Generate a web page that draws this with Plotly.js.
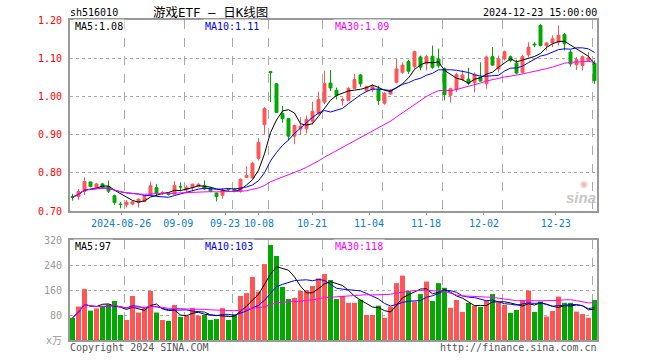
<!DOCTYPE html>
<html><head><meta charset="utf-8">
<script src="https://cdn.plot.ly/plotly-3.0.1.min.js"></script>
<style>html,body{margin:0;padding:0;background:#fff}</style>
</head><body><div id="chart" style="width:660px;height:360px"></div>
<script>
const dates = ['08-13','08-14','08-15','08-16','08-19','08-20','08-21','08-22','08-23','08-26','08-27','08-28','08-29','08-30',
'09-02','09-03','09-04','09-05','09-06','09-09','09-10','09-11','09-12','09-13','09-18','09-19','09-20','09-23','09-24','09-25','09-26','09-27','09-30',
'10-08','10-09','10-10','10-11','10-14','10-15','10-16','10-17','10-18','10-21','10-22','10-23','10-24','10-25','10-28','10-29','10-30','10-31',
'11-01','11-04','11-05','11-06','11-07','11-08','11-11','11-12','11-13','11-14','11-15','11-18','11-19','11-20','11-21','11-22','11-25','11-26','11-27','11-28','11-29',
'12-02','12-03','12-04','12-05','12-06','12-09','12-10','12-11','12-12','12-13','12-16','12-17','12-18','12-19','12-20','12-23'];
const openP = [.738,.738,.751,.776,.760,.771,.764,.740,.718,.716,.718,.722,.725,.742,
.761,.745,.747,.744,.764,.755,.761,.764,.767,.760,.747,.741,.758,.757,.752,.788,.787,.838,.926,
1.065,1.033,.955,.942,.896,.915,.915,.935,.955,.985,1.035,1.016,.989,.989,1.021,1.056,1.015,1.017,
1.019,.982,1.006,1.037,1.063,1.091,1.078,1.103,1.085,1.105,1.098,1.073,1.003,1.018,1.044,1.045,1.036,1.050,1.033,1.104,1.072,
1.098,1.104,1.087,1.063,1.109,1.137,1.186,1.133,1.140,1.142,1.162,1.116,1.083,1.081,1.094,1.087];
const highP = [.745,.758,.788,.777,.773,.773,.780,.743,.724,.729,.727,.733,.741,.777,
.771,.752,.749,.778,.775,.767,.772,.773,.780,.762,.748,.760,.759,.760,.785,.817,.829,.890,.972,
1.065,1.035,.975,.944,.926,.945,.950,.986,1.012,1.067,1.069,1.023,.997,1.024,1.059,1.059,1.028,1.032,
1.028,1.011,1.019,1.098,1.089,1.096,1.120,1.107,1.109,1.133,1.125,1.076,1.023,1.062,1.068,1.075,1.063,1.089,1.107,1.129,1.107,
1.120,1.107,1.096,1.109,1.142,1.142,1.189,1.142,1.160,1.186,1.166,1.122,1.103,1.107,1.116,1.094];
const lowP = [.727,.729,.742,.762,.759,.758,.747,.716,.707,.709,.715,.709,.723,.739,
.739,.742,.740,.743,.751,.746,.752,.762,.755,.749,.725,.732,.753,.750,.748,.786,.785,.832,.900,
.985,.957,.931,.884,.875,.900,.903,.926,.952,.980,1.014,.992,.976,.988,1.019,1.025,1.011,1.011,
.978,.978,1.004,1.034,1.059,1.059,1.072,1.068,1.068,1.072,1.075,.990,.984,1.012,1.040,1.030,1.010,1.038,1.020,1.080,1.063,
1.094,1.090,1.058,1.060,1.103,1.129,1.131,1.120,1.129,1.133,1.120,1.078,1.069,1.068,1.090,1.033];
const closeP = [.736,.751,.777,.764,.771,.763,.752,.722,.717,.723,.724,.731,.738,.766,
.747,.748,.743,.767,.763,.762,.770,.770,.758,.752,.738,.754,.756,.753,.783,.793,.825,.879,.968,
1.062,.958,.942,.896,.924,.922,.940,.961,.992,1.034,1.022,1.003,.992,1.021,1.044,1.033,1.025,1.026,
.989,1.008,1.015,1.072,1.082,1.066,1.117,1.076,1.104,1.076,1.080,1.005,1.020,1.057,1.056,1.034,1.058,1.040,1.103,1.082,1.098,
1.117,1.094,1.061,1.104,1.129,1.135,1.133,1.140,1.151,1.160,1.138,1.085,1.096,1.104,1.101,1.041];
const volume = [71,107,163,94,101,106,114,125,80,64,141,88,101,157,
88,64,61,112,74,78,102,78,80,64,67,102,64,82,141,150,202,155,243,
304,269,170,131,135,157,160,173,197,211,192,131,141,119,119,129,80,80,
110,71,107,182,206,157,123,147,187,125,182,167,103,128,90,119,110,106,127,147,120,
112,87,96,128,158,90,123,75,93,139,119,119,91,83,71,128];

const priceTicks = [0.70,0.80,0.90,1.00,1.10,1.20];
const priceTickText = ['0.70','0.80','0.90','1.00','1.10','1.20'];
const volTicks = [0,80,160,240,320];
const volTickText = ['x万','80','160','240','320'];
const labelDates = ['08-26','09-09','09-23','10-08','10-21','11-04','11-18','12-02','12-23'];
const dateTickText = ['2024-08-26','09-09','09-23','10-08','10-21','11-04','11-18','12-02','12-23'];
const dateTickPos = [8.11,17.63,25.42,31.08,39.92,49.42,58.92,68.58,80.53];
const priceMALabels = ['MA5:1.08','MA10:1.11','MA30:1.09'];
const volMALabels = ['MA5:97','MA10:103','MA30:118'];

const RED = '#ff5555', GREEN = '#00a800';
const idx = dates.map((d,i)=>i);
function ma(arr,n){return arr.map((_,i)=>{const s=Math.max(0,i-n+1);let t=0;for(let k=s;k<=i;k++)t+=arr[k];return t/(i-s+1);});}
const gridPos = labelDates.map(d=>dates.indexOf(d)-0.37);
const xr = [-0.417, 87.417];
const mono = 'DejaVu Sans Mono, Noto Sans CJK SC, monospace';
const maColors = ['#000000','#0000ff','#ff00ff'];
const periods = [5,10,30];

const traces = [];
traces.push({type:'candlestick', x:idx, open:openP, high:highP, low:lowP, close:closeP,
  xaxis:'x', yaxis:'y', whiskerwidth:0, hoverinfo:'skip',
  increasing:{line:{color:RED,width:1},fillcolor:RED},
  decreasing:{line:{color:GREEN,width:1},fillcolor:GREEN}});
periods.forEach((p,k)=>traces.push({type:'scatter',mode:'lines',x:idx,y:ma(closeP,p),xaxis:'x',yaxis:'y',
  line:{color:maColors[k],width:1},hoverinfo:'skip'}));
traces.push({type:'bar',x:idx,y:volume,xaxis:'x2',yaxis:'y2',width:0.83,
  marker:{color:idx.map(i=>closeP[i]>=openP[i]?RED:GREEN),line:{width:0}},hoverinfo:'skip'});
periods.forEach((p,k)=>traces.push({type:'scatter',mode:'lines',x:idx,y:ma(volume,p),xaxis:'x2',yaxis:'y2',
  line:{color:maColors[k],width:1},hoverinfo:'skip'}));
traces.push({type:'scatter',mode:'none',x:idx,y:closeP,xaxis:'x3',yaxis:'y',hoverinfo:'skip'});

const frame = {showline:true, mirror:true, linecolor:'#999', linewidth:2, zeroline:false, fixedrange:true};
const xgrid = Object.assign({range:xr, tickvals:gridPos, showticklabels:false, ticks:'', showgrid:true,
  gridcolor:'#aaa', griddash:'dash', gridwidth:1.3}, frame);

function ann(text,px,py,anchor,color,size,extra){
  return Object.assign({text:text, xref:'paper', yref:'paper', x:(px-70)/527, y:(340-py)/320,
    xanchor:anchor, yanchor:'middle', showarrow:false, font:{family:mono,size:size||10,color:color}}, extra||{});
}
const annotations = [
  ann('sh516010',68,12,'left','#000',10),
  ann('游戏ETF — 日K线图',210,12,'center','#000',12.5),
  ann('2024-12-23 15:00:00',599,12,'right','#000',10),
  ann(priceMALabels[0],73,27,'left',maColors[0],10,{bgcolor:'#fff'}),
  ann(priceMALabels[1],203,27,'left',maColors[1],10,{bgcolor:'#fff'}),
  ann(priceMALabels[2],333,27,'left',maColors[2],10,{bgcolor:'#fff'}),
  ann(volMALabels[0],73,246,'left',maColors[0],10,{bgcolor:'#fff'}),
  ann(volMALabels[1],203,246,'left',maColors[1],10,{bgcolor:'#fff'}),
  ann(volMALabels[2],333,246,'left',maColors[2],10,{bgcolor:'#fff'}),
  ann('Copyright 2024 SINA.COM',68,347,'left','#555',10),
  ann('http://finance.sina.com.cn',599,347,'right','#555',10),
  ann('<b><i>sina</i></b>',581,197,'center','#c8c8c8',15,{font:{family:'Liberation Sans, Arial',size:15,color:'#c8c8c8'}}),
  ann('◉',584,184,'center','#f2b0b0',9,{font:{family:'DejaVu Sans',size:9,color:'#f4b4b4'}})
];

const layout = {
  width:660, height:360, margin:{l:70,r:63,t:20,b:20},
  paper_bgcolor:'#fff', plot_bgcolor:'#fff', showlegend:false, dragmode:false, hovermode:false,
  boxgap:0.3,
  xaxis: Object.assign({anchor:'y', rangeslider:{visible:false}}, xgrid),
  yaxis: Object.assign({domain:[129/320,1], range:[0.70,1.20], tickvals:priceTicks, ticktext:priceTickText,
    ticks:'', ticklabelstandoff:4, tickfont:{family:mono,size:10,color:'#ff0000'},
    showgrid:true, gridcolor:'#aaa', griddash:'dot', gridwidth:1}, frame),
  xaxis2: Object.assign({anchor:'y2'}, xgrid),
  yaxis2: Object.assign({domain:[0,100/320], range:[0,320], tickvals:volTicks, ticktext:volTickText,
    ticks:'', ticklabelstandoff:4, tickfont:{family:mono,size:10,color:'#999'},
    showgrid:true, gridcolor:'#aaa', griddash:'dot', gridwidth:1}, frame),
  xaxis3: {overlaying:'x', anchor:'y', side:'bottom', range:xr, tickvals:dateTickPos, ticktext:dateTickText,
    ticks:'outside', ticklen:3, tickcolor:'#999', showgrid:false, showline:false, zeroline:false, fixedrange:true,
    tickfont:{family:mono,size:10,color:'#0a80d0'}},
  annotations: annotations
};
Plotly.newPlot('chart', traces, layout, {staticPlot:true, displayModeBar:false});
</script></body></html>
